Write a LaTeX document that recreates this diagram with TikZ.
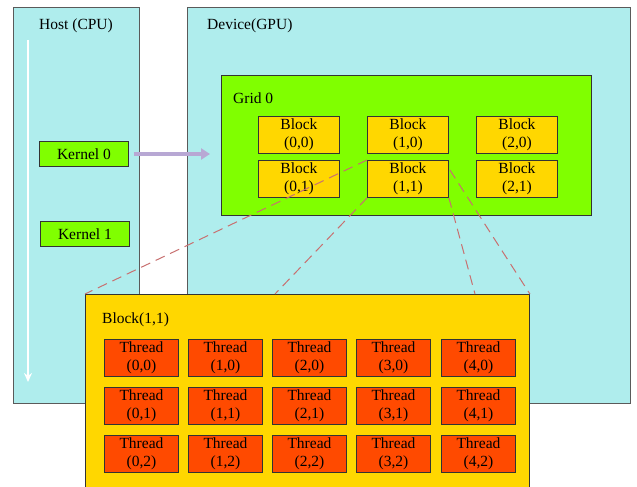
\documentclass[tikz,border=0pt]{standalone}
\usepackage{fontspec}
\setmainfont{Liberation Serif}
\usetikzlibrary{arrows.meta,calc}
\definecolor{cyanbg}{HTML}{AFEDED}
\definecolor{grn}{HTML}{80FF00}
\definecolor{gold}{HTML}{FFD700}
\definecolor{orng}{HTML}{FF4A00}
\definecolor{lav}{HTML}{B8A8D4}
\definecolor{dashc}{HTML}{C87070}
\definecolor{edge}{HTML}{5A5A5A}
\tikzset{
  panel/.style={draw=edge, line width=0.9pt, fill=cyanbg},
  kbox/.style={draw=black!80, line width=0.9pt, fill=grn, anchor=north west, inner sep=0pt, font=\fontsize{15.5}{18}\selectfont},
  bbox/.style={draw=black!80, line width=0.9pt, fill=gold, anchor=north west, inner sep=0pt, align=center, minimum width=81pt, minimum height=37pt, font=\fontsize{15.5}{18}\selectfont},
  tbox/.style={draw=black!80, line width=0.9pt, fill=orng, anchor=north west, inner sep=0pt, align=center, minimum width=74pt, minimum height=37pt, font=\fontsize{15.5}{18}\selectfont},
  lbl/.style={anchor=base west, inner sep=0pt, font=\fontsize{15.5}{18}\selectfont},
  dl/.style={draw=dashc, line width=1pt, dash pattern=on 10pt off 6pt},
}
\begin{document}
\begin{tikzpicture}[x=1pt,y=-1pt]
\useasboundingbox (0,0) rectangle (637,487);
\clip (0,0) rectangle (637,487);
\fill[white] (0,0) rectangle (637,487);
% panels
\node[panel, anchor=north west, minimum width=126pt, minimum height=396pt, inner sep=0pt] (host) at (13,7) {};
\node[panel, anchor=north west, minimum width=443pt, minimum height=396pt, inner sep=0pt] (dev) at (187,7) {};
\node[lbl] (hostlbl) at (39,30) {Host (CPU)};
\node[lbl] (devlbl) at (207,30) {Device(GPU)};
% host timeline arrow
\coordinate (tl0) at (28,40);
\coordinate (tl1) at (28,382);
\draw[white, line width=2pt, -{Stealth[length=9pt,width=8pt]}] (tl0) -- (tl1);
% kernels
\node[kbox, minimum width=89pt, minimum height=25pt] (k0) at (39,141) {Kernel 0};
\node[kbox, minimum width=89pt, minimum height=25pt] (k1) at (40,221) {Kernel 1};
% grid
\node[draw=black!80, line width=0.9pt, fill=grn, anchor=north west, minimum width=370pt, minimum height=140pt, inner sep=0pt] (grid) at (221,75) {};
\node[lbl] (gridlbl) at (233,103) {Grid 0};
% kernel arrow
\coordinate (karr) at (210,154);
\draw[lav, line width=3.5pt, -{Triangle[length=9pt,width=11pt]}] ([xshift=5pt]k0.east |- karr) -- (karr);
% blocks
\node[bbox] (b00) at (258,116) {Block\\(0,0)};
\node[bbox] (b10) at (367,116) {Block\\(1,0)};
\node[bbox] (b20) at (476,116) {Block\\(2,0)};
\node[bbox] (b01) at (258,160) {Block\\(0,1)};
\node[bbox] (b11) at (367,160) {Block\\(1,1)};
\node[bbox] (b21) at (476,160) {Block\\(2,1)};
% big block
\node[draw=black!80, line width=0.9pt, fill=gold, anchor=north west, minimum width=444pt, minimum height=220pt, inner sep=0pt] (big) at (85,294) {};
% dashed connectors
\coordinate (b11r) at ($(b11.north east)+(1,10)$);
\coordinate (bigm) at (275,294);
\coordinate (bigr) at (475,294);
\draw[dl] (b11.north west) -- (big.north west);
\draw[dl] (b11.south west) -- (bigm);
\draw[dl] (b11r) -- (big.north east);
\draw[dl] (b11.south east) -- (bigr);
\node[lbl] (biglbl) at (102,323) {Block(1,1)};
% threads
\foreach \c/\x in {0/104,1/188,2/272,3/356,4/441}{
  \foreach \r/\y in {0/339,1/387,2/435}{
    \node[tbox] (t\c\r) at (\x,\y) {Thread\\(\c,\r)};
  }
}
\end{tikzpicture}
\end{document}
